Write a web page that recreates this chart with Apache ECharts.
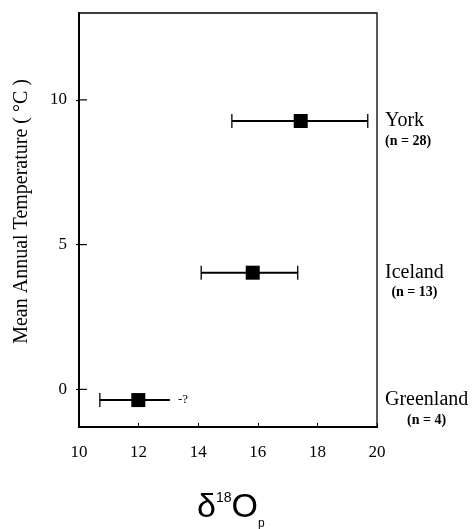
<!DOCTYPE html>
<html>
<head>
<meta charset="utf-8">
<script src="https://cdn.jsdelivr.net/npm/echarts@6/dist/echarts.min.js"></script>
<style>
html,body{margin:0;padding:0;background:#fff;}
#chart{width:474px;height:529px;}
</style>
</head>
<body>
<div id="chart"></div>
<script>
const sites = ['York', 'Iceland', 'Greenland'];
const nLabels = ['(n = 28)', '(n = 13)', '(n = 4)'];
const d18O = [17.44, 15.83, 11.99];
const temp = [9.27, 4.03, -0.37];
const errLow = [15.13, 14.10, 10.70];
const errHigh = [19.69, 17.34, 13.05];
const capHigh = [true, true, false];
const notes = ['', '', '-?'];
const xTicks = [10, 12, 14, 16, 18, 20];
const yTicks = [0, 5, 10];
const xMin = 10, xMax = 20, yMin = -1.3, yMax = 13;

const serif = "'Liberation Serif','Times New Roman',serif";
const sans = "'Liberation Sans',Arial,sans-serif";
const chart = echarts.init(document.getElementById('chart'), null, {renderer: 'canvas'});

const option = {
  backgroundColor: '#fff',
  animation: false,
  grid: {left: 79, right: 97, top: 13, bottom: 102, show: true, borderColor: '#000', borderWidth: 1.3},
  xAxis: {
    type: 'value', min: xMin, max: xMax, interval: 2,
    axisLine: {show: true, onZero: false, lineStyle: {color: '#000', width: 2.2}},
    axisTick: {show: true, inside: true, length: 4, lineStyle: {color: '#000', width: 1}},
    axisLabel: {color: '#000', fontFamily: serif, fontSize: 17, margin: 17, customValues: xTicks},
    splitLine: {show: false}
  },
  yAxis: [{
    type: 'value', min: yMin, max: yMax,
    axisLine: {show: true, onZero: false, lineStyle: {color: '#000', width: 2}},
    axisTick: {show: true, inside: false, length: 3, customValues: yTicks, lineStyle: {color: '#000', width: 1.2}},
    axisLabel: {color: '#000', fontFamily: serif, fontSize: 17, margin: 12, customValues: yTicks},
    splitLine: {show: false}
  }],
  graphic: [{
    type: 'text', left: 12, top: 79,
    rotation: Math.PI / 2,
    style: {text: 'Mean Annual Temperature ( °C )', font: "20px 'Liberation Serif', serif", fill: '#000'}
  }, {
    type: 'text', left: 197, top: 486,
    style: {
      text: '{a|δ}{s|18}{a|O}{b|p}',
      rich: {
        a: {fontFamily: sans, fontSize: 34, fill: '#000', lineHeight: 44, verticalAlign: 'middle'},
        s: {fontFamily: sans, fontSize: 14, fill: '#000', verticalAlign: 'top', lineHeight: 28, padding: [5, 0, 0, 0]},
        b: {fontFamily: sans, fontSize: 12, fill: '#000', verticalAlign: 'bottom', lineHeight: 8}
      }
    }
  }],
  series: [{
    // inward tick marks of the y axis, placed through the axis scale
    type: 'custom',
    clip: false,
    data: yTicks.map(v => [xMin, v]),
    encode: {x: 0, y: 1},
    silent: true,
    renderItem: function (params, api) {
      const p = api.coord([api.value(0), api.value(1)]);
      return {type: 'line', shape: {x1: p[0], y1: p[1], x2: p[0] + 8, y2: p[1]}, style: {stroke: '#000', lineWidth: 1.2}};
    },
    z: 1
  }, {
    type: 'custom',
    clip: false,
    data: sites.map((s, i) => [errLow[i], errHigh[i], temp[i], i]),
    encode: {x: [0, 1], y: 2},
    renderItem: function (params, api) {
      const i = api.value(3);
      const y = api.value(2);
      const p1 = api.coord([api.value(0), y]);
      const p2 = api.coord([api.value(1), y]);
      const pr = api.coord([xMax, y]);
      const children = [
        {type: 'line', shape: {x1: p1[0], y1: p1[1], x2: p2[0], y2: p2[1]}, style: {stroke: '#000', lineWidth: 2}},
        {type: 'line', shape: {x1: p1[0], y1: p1[1] - 7, x2: p1[0], y2: p1[1] + 7}, style: {stroke: '#000', lineWidth: 1.3}}
      ];
      if (capHigh[i]) {
        children.push({type: 'line', shape: {x1: p2[0], y1: p2[1] - 7, x2: p2[0], y2: p2[1] + 7}, style: {stroke: '#000', lineWidth: 1.3}});
      }
      if (notes[i]) {
        children.push({type: 'text', style: {x: p2[0] + 8, y: p2[1], text: notes[i], font: "13px 'Liberation Serif', serif", fill: '#000', verticalAlign: 'middle', align: 'left'}});
      }
      children.push({
        type: 'text',
        style: {
          x: pr[0] + 8, y: pr[1] + 10,
          text: '{n|' + sites[i] + '}\n{c|' + nLabels[i] + '}',
          align: 'left', verticalAlign: 'middle',
          rich: {
            n: {fontFamily: serif, fontSize: 20, fill: '#000', lineHeight: 20, align: 'left'},
            c: {fontFamily: serif, fontSize: 14, fontWeight: 'bold', fill: '#000', lineHeight: 20, align: 'center'}
          }
        }
      });
      return {type: 'group', children: children};
    },
    z: 2
  }, {
    type: 'scatter',
    data: sites.map((s, i) => [d18O[i], temp[i]]),
    symbol: 'rect', symbolSize: 14,
    itemStyle: {color: '#000', opacity: 1},
    z: 3
  }]
};
chart.setOption(option);
</script>
</body>
</html>
